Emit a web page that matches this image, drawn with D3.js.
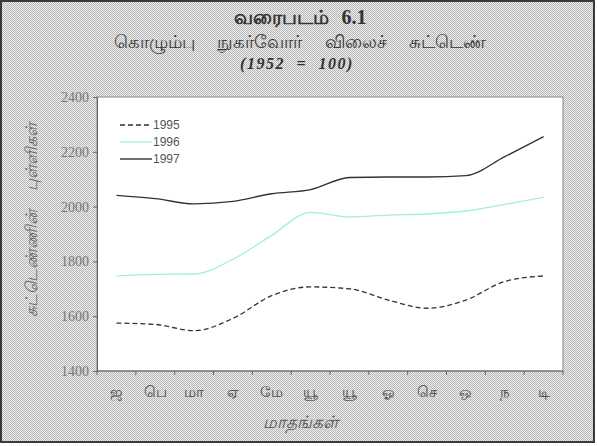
<!DOCTYPE html>
<html>
<head>
<meta charset="utf-8">
<script src="https://cdn.jsdelivr.net/npm/d3@7"></script>
<style>
  body { margin: 0; background: #fff; }
  svg { display: block; }
</style>
</head>
<body>
<script>
const months = ['ஜ', 'பெ', 'மா', 'ஏ', 'மே', 'யூ', 'யூ', 'ஓ', 'செ', 'ஒ', 'ந', 'டி'];
const years = ['1995', '1996', '1997'];
const v1995 = [1575, 1570, 1547, 1592, 1675, 1707, 1700, 1659, 1629, 1659, 1727, 1747];
const v1996 = [1747, 1753, 1754, 1808, 1895, 1979, 1962, 1969, 1973, 1984, 2008, 2034];
const v1997 = [2041, 2029, 2010, 2019, 2047, 2062, 2106, 2108, 2108, 2113, 2182, 2255];
const yTicks = [1400, 1600, 1800, 2000, 2200, 2400];

const width = 597, height = 446,
  margin = { top: 97, right: 34, bottom: 75, left: 97 };

const svg = d3.select('body').append('svg')
  .attr('width', width)
  .attr('height', height);

// halftone looking background
const pat = svg.append('defs').append('pattern')
  .attr('id', 'dots')
  .attr('width', 2).attr('height', 2)
  .attr('patternUnits', 'userSpaceOnUse');
pat.append('rect').attr('width', 2).attr('height', 2).attr('fill', '#ededed');
pat.append('rect').attr('width', 1).attr('height', 1).attr('fill', '#b8b8b8');
pat.append('rect').attr('x', 1).attr('y', 1).attr('width', 1).attr('height', 1).attr('fill', '#b8b8b8');

svg.append('rect')
  .attr('x', 1).attr('y', 1)
  .attr('width', width - 4).attr('height', height - 5)
  .attr('fill', 'url(#dots)')
  .attr('stroke', '#3a3a3a')
  .attr('stroke-width', 2);

const x = d3.scaleBand()
  .domain(d3.range(months.length))
  .range([margin.left, width - margin.right]);

const y = d3.scaleLinear()
  .domain([1400, 2400])
  .range([height - margin.bottom, margin.top]);

const g = svg.append('g');

g.append('rect')
  .attr('x', margin.left)
  .attr('y', margin.top)
  .attr('width', width - margin.left - margin.right)
  .attr('height', height - margin.top - margin.bottom)
  .attr('fill', '#fff')
  .attr('stroke', '#888')
  .attr('stroke-width', 1);

// y axis
const yAxis = g.append('g')
  .attr('transform', `translate(${margin.left},0)`)
  .call(d3.axisLeft(y).tickValues(yTicks).tickSize(4).tickPadding(4).tickFormat(d3.format('d')));
yAxis.select('.domain').attr('stroke', '#666');
yAxis.selectAll('line').attr('stroke', '#666');
yAxis.selectAll('text')
  .attr('fill', '#777')
  .style('font-family', '"Liberation Serif", serif')
  .style('font-size', '14px');

// x axis: ticks at band edges, labels at band centres
const xAxis = g.append('g')
  .attr('transform', `translate(0,${height - margin.bottom})`);
xAxis.append('line')
  .attr('x1', margin.left).attr('x2', width - margin.right)
  .attr('stroke', '#666');
xAxis.selectAll('.tick')
  .data(d3.range(months.length + 1))
  .join('line')
  .attr('x1', d => margin.left + d * x.bandwidth())
  .attr('x2', d => margin.left + d * x.bandwidth())
  .attr('y1', 0).attr('y2', 4)
  .attr('stroke', '#666');
xAxis.selectAll('text')
  .data(months)
  .join('text')
  .attr('x', (d, i) => x(i) + x.bandwidth() / 2)
  .attr('y', 26)
  .attr('text-anchor', 'middle')
  .attr('fill', '#444')
  .style('font-size', '15px')
  .text(d => d);

// series
const series = [
  { name: years[0], values: v1995, color: '#333', dash: '5,3', width: 1.3 },
  { name: years[1], values: v1996, color: '#9ff0dc', dash: null, width: 1.3 },
  { name: years[2], values: v1997, color: '#333', dash: null, width: 1.4 }
];

const line = d3.line()
  .x((d, i) => x(i) + x.bandwidth() / 2)
  .y(d => y(d))
  .curve(d3.curveMonotoneX);

g.selectAll('.series')
  .data(series)
  .join('path')
  .attr('class', 'series')
  .attr('d', d => line(d.values))
  .attr('fill', 'none')
  .attr('stroke', d => d.color)
  .attr('stroke-width', d => d.width)
  .attr('stroke-dasharray', d => d.dash);

// legend
const legend = g.append('g')
  .attr('transform', 'translate(120,125)');
legend.selectAll('line')
  .data(series)
  .join('line')
  .attr('x1', 0).attr('x2', 32)
  .attr('y1', (d, i) => i * 17).attr('y2', (d, i) => i * 17)
  .attr('stroke', d => d.color)
  .attr('stroke-width', d => d.width)
  .attr('stroke-dasharray', d => d.dash);
legend.selectAll('text')
  .data(series)
  .join('text')
  .attr('x', 33)
  .attr('y', (d, i) => i * 17 + 4)
  .attr('fill', '#555')
  .style('font-family', '"Liberation Sans Narrow", "Liberation Sans", sans-serif')
  .style('font-size', '12px')
  .text(d => d.name);

// titles
const title = svg.append('g')
  .attr('text-anchor', 'middle')
  .attr('fill', '#333');
title.append('text')
  .attr('x', 300).attr('y', 24)
  .style('font-size', '20px')
  .style('font-weight', 'bold')
  .style('word-spacing', '8px')
  .text('வரைபடம் 6.1');
title.append('text')
  .attr('x', 300).attr('y', 48)
  .style('font-size', '18px')
  .style('word-spacing', '18px')
  .text('கொழும்பு நுகர்வோர் விலைச் சுட்டெண்');
title.append('text')
  .attr('x', 297).attr('y', 69)
  .style('font-family', '"Liberation Serif", serif')
  .style('font-size', '16px')
  .style('font-weight', 'bold')
  .style('font-style', 'italic')
  .style('letter-spacing', '1.5px')
  .style('word-spacing', '6px')
  .text('(1952 = 100)');

svg.append('text')
  .attr('x', 300).attr('y', 428)
  .attr('text-anchor', 'middle')
  .attr('fill', '#555')
  .style('font-size', '17px')
  .style('font-style', 'italic')
  .text('மாதங்கள்');

svg.append('text')
  .attr('transform', 'translate(37,220) rotate(-90)')
  .attr('text-anchor', 'middle')
  .attr('fill', '#666')
  .style('font-size', '16px')
  .style('font-style', 'italic')
  .style('word-spacing', '14px')
  .text('சுட்டெண்ணின் புள்ளிகள்');
</script>
</body>
</html>
